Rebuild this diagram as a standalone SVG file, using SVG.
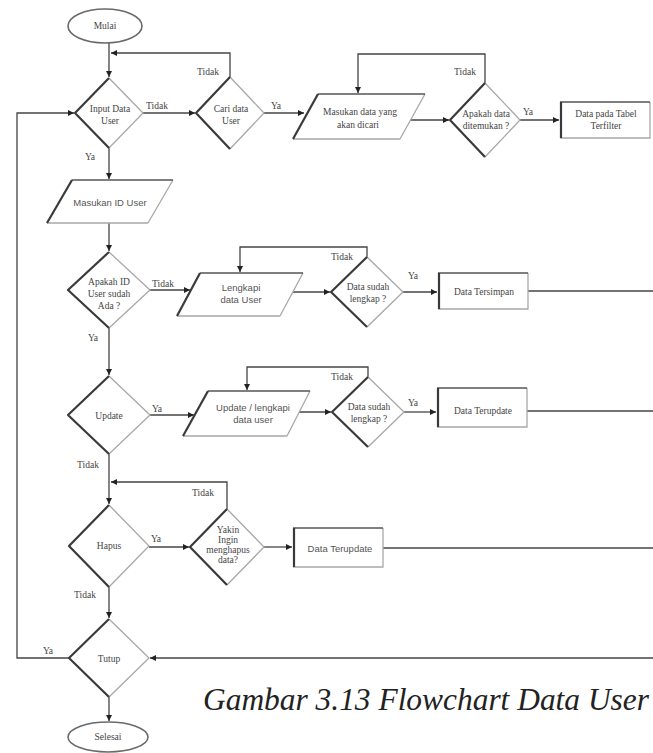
<svg xmlns="http://www.w3.org/2000/svg" width="653" height="753" viewBox="0 0 653 753">
  <style>
    .bg { fill: #ffffff; }
    .fill { fill: #ffffff; stroke: none; }
    .lt { fill: none; stroke: #a8a8a8; stroke-width: 1.3; }
    .dk { fill: none; stroke: #3a3a3a; stroke-width: 2.2; stroke-linejoin: round; }
    .md { fill: none; stroke: #555555; stroke-width: 1.5; }
    .ell { fill: #ffffff; stroke: #6a6a6a; stroke-width: 1.6; }
    .ln { fill: none; stroke: #444444; stroke-width: 1.3; }
    .t { font-family: "Liberation Serif", "Times New Roman", serif; font-size: 9.5px; fill: #444444; text-anchor: middle; }
    .s { font-family: "Liberation Sans", Arial, sans-serif; font-size: 9.5px; fill: #555555; text-anchor: middle; }
    .lb { font-family: "Liberation Serif", "Times New Roman", serif; font-size: 9.5px; fill: #444444; text-anchor: middle; }
    .cap { font-family: "Liberation Serif", "Times New Roman", serif; font-style: italic; font-size: 31px; fill: #222222; }
  </style>
  <defs>
    <marker id="arr" markerWidth="7" markerHeight="7" refX="6" refY="3" orient="auto" markerUnits="userSpaceOnUse">
      <path d="M0,0 L6,3 L0,6 z" fill="#222222"/>
    </marker>
  </defs>

  <rect class="bg" x="0" y="0" width="653" height="753"/>

  <!-- connectors -->
  <g id="connectors">
    <path class="ln" d="M109,43 L109,77" marker-end="url(#arr)"/>
    <path class="ln" d="M230,77 L230,53 L111,53" marker-end="url(#arr)"/>
    <path class="ln" d="M143,113 L195,113" marker-end="url(#arr)"/>
    <path class="ln" d="M264,113 L304,113" marker-end="url(#arr)"/>
    <path class="ln" d="M410,120 L449,120" marker-end="url(#arr)"/>
    <path class="ln" d="M485,83 L485,54 L358,54 L358,93" marker-end="url(#arr)"/>
    <path class="ln" d="M520,120 L559,120" marker-end="url(#arr)"/>
    <path class="ln" d="M109,148 L109,179" marker-end="url(#arr)"/>
    <path class="ln" d="M109,223 L109,251" marker-end="url(#arr)"/>
    <path class="ln" d="M150,290 L190,290" marker-end="url(#arr)"/>
    <path class="ln" d="M292,292 L330,292" marker-end="url(#arr)"/>
    <path class="ln" d="M367,257 L367,247 L240,247 L240,272" marker-end="url(#arr)"/>
    <path class="ln" d="M403,292 L437,292" marker-end="url(#arr)"/>
    <path class="ln" d="M528,291 L653,291"/>
    <path class="ln" d="M109,328 L109,375" marker-end="url(#arr)"/>
    <path class="ln" d="M150,415 L194,415" marker-end="url(#arr)"/>
    <path class="ln" d="M298,412 L331,412" marker-end="url(#arr)"/>
    <path class="ln" d="M368,377 L368,367 L247,367 L247,390" marker-end="url(#arr)"/>
    <path class="ln" d="M404,412 L436,412" marker-end="url(#arr)"/>
    <path class="ln" d="M527,411 L653,411"/>
    <path class="ln" d="M109,454 L109,504" marker-end="url(#arr)"/>
    <path class="ln" d="M227,509 L227,482 L111,482" marker-end="url(#arr)"/>
    <path class="ln" d="M149,547 L189,547" marker-end="url(#arr)"/>
    <path class="ln" d="M264,547 L292,547" marker-end="url(#arr)"/>
    <path class="ln" d="M383,548 L653,548"/>
    <path class="ln" d="M109,587 L109,618" marker-end="url(#arr)"/>
    <path class="ln" d="M653,658 L150,658" marker-end="url(#arr)"/>
    <path class="ln" d="M69,658 L17,658 L17,113 L74,113" marker-end="url(#arr)"/>
    <path class="ln" d="M109,697 L109,721" marker-end="url(#arr)"/>

    <!-- branch labels -->
    <text class="lb" x="208" y="75">Tidak</text>
    <text class="lb" x="157" y="109">Tidak</text>
    <text class="lb" x="276" y="109">Ya</text>
    <text class="lb" x="90" y="160">Ya</text>
    <text class="lb" x="465" y="75">Tidak</text>
    <text class="lb" x="528" y="115">Ya</text>
    <text class="lb" x="163" y="287">Tidak</text>
    <text class="lb" x="342" y="260">Tidak</text>
    <text class="lb" x="413" y="279">Ya</text>
    <text class="lb" x="93" y="341">Ya</text>
    <text class="lb" x="157" y="412">Ya</text>
    <text class="lb" x="342" y="380">Tidak</text>
    <text class="lb" x="413" y="406">Ya</text>
    <text class="lb" x="88" y="468">Tidak</text>
    <text class="lb" x="203" y="496">Tidak</text>
    <text class="lb" x="156" y="542">Ya</text>
    <text class="lb" x="85" y="598">Tidak</text>
    <text class="lb" x="48" y="654">Ya</text>
  </g>

  <!-- terminators -->
  <g id="mulai">
    <ellipse class="ell" cx="105" cy="26" rx="37" ry="17"/>
    <text class="t" x="105" y="29">Mulai</text>
  </g>
  <g id="selesai">
    <ellipse class="ell" cx="108" cy="737" rx="40" ry="15"/>
    <text class="t" x="108" y="740">Selesai</text>
  </g>

  <!-- decisions -->
  <g id="input-data-user">
    <path class="fill" d="M109,78 L75,113 L109,148 L143,113 z"/>
    <path class="lt" d="M109,78 L143,113 L109,148"/>
    <path class="dk" d="M109,78 L75,113 L109,148"/>
    <text class="t" x="110" y="112">Input Data</text>
    <text class="t" x="110" y="124">User</text>
  </g>
  <g id="cari-data-user">
    <path class="fill" d="M230,77 L196,113 L230,149 L264,113 z"/>
    <path class="lt" d="M230,77 L264,113 L230,149"/>
    <path class="dk" d="M230,77 L196,113 L230,149"/>
    <text class="t" x="231" y="112">Cari data</text>
    <text class="t" x="231" y="124">User</text>
  </g>
  <g id="apakah-data-ditemukan">
    <path class="fill" d="M485,83 L450,120 L485,157 L520,120 z"/>
    <path class="lt" d="M485,83 L520,120 L485,157"/>
    <path class="dk" d="M485,83 L450,120 L485,157"/>
    <text class="t" x="486" y="117">Apakah data</text>
    <text class="t" x="486" y="129">ditemukan ?</text>
  </g>
  <g id="apakah-id-ada">
    <path class="fill" d="M109,252 L68,290 L109,328 L150,290 z"/>
    <path class="lt" d="M109,252 L150,290 L109,328"/>
    <path class="dk" d="M109,252 L68,290 L109,328"/>
    <text class="t" x="109" y="285">Apakah ID</text>
    <text class="t" x="109" y="297">User sudah</text>
    <text class="t" x="109" y="309">Ada ?</text>
  </g>
  <g id="data-lengkap-1">
    <path class="fill" d="M367,257 L331,292 L367,327 L403,292 z"/>
    <path class="lt" d="M367,257 L403,292 L367,327"/>
    <path class="dk" d="M367,257 L331,292 L367,327"/>
    <text class="t" x="368" y="290">Data sudah</text>
    <text class="t" x="368" y="302">lengkap ?</text>
  </g>
  <g id="update">
    <path class="fill" d="M109,376 L68,415 L109,454 L150,415 z"/>
    <path class="lt" d="M109,376 L150,415 L109,454"/>
    <path class="dk" d="M109,376 L68,415 L109,454"/>
    <text class="t" x="109" y="419">Update</text>
  </g>
  <g id="data-lengkap-2">
    <path class="fill" d="M368,377 L332,412 L368,447 L404,412 z"/>
    <path class="lt" d="M368,377 L404,412 L368,447"/>
    <path class="dk" d="M368,377 L332,412 L368,447"/>
    <text class="t" x="369" y="410">Data sudah</text>
    <text class="t" x="369" y="422">lengkap ?</text>
  </g>
  <g id="hapus">
    <path class="fill" d="M109,505 L69,546 L109,587 L149,546 z"/>
    <path class="lt" d="M109,505 L149,546 L109,587"/>
    <path class="dk" d="M109,505 L69,546 L109,587"/>
    <text class="t" x="109" y="549">Hapus</text>
  </g>
  <g id="yakin-hapus">
    <path class="fill" d="M227,509 L190,547 L227,585 L264,547 z"/>
    <path class="lt" d="M227,509 L264,547 L227,585"/>
    <path class="dk" d="M227,509 L190,547 L227,585"/>
    <text class="t" x="228" y="533">Yakin</text>
    <text class="t" x="228" y="543">Ingin</text>
    <text class="t" x="228" y="553">menghapus</text>
    <text class="t" x="228" y="563">data?</text>
  </g>
  <g id="tutup">
    <path class="fill" d="M109,619 L69,658 L109,697 L149,658 z"/>
    <path class="lt" d="M109,619 L149,658 L109,697"/>
    <path class="dk" d="M109,619 L69,658 L109,697"/>
    <text class="t" x="109" y="662">Tutup</text>
  </g>

  <!-- inputs -->
  <g id="masukan-data-dicari">
    <path class="fill" d="M318,94 L425,94 L400,139 L293,139 z"/>
    <path class="lt" d="M293,139 L400,139 M425,94 L400,139"/>
    <path class="md" d="M318,94 L425,94"/>
    <path class="dk" d="M293,139 L318,94"/>
    <text class="t" x="360" y="115">Masukan data yang</text>
    <text class="t" x="358" y="128">akan dicari</text>
  </g>
  <g id="masukan-id-user">
    <path class="fill" d="M72,180 L173,180 L148,223 L47,223 z"/>
    <path class="lt" d="M47,223 L148,223 M173,180 L148,223"/>
    <path class="md" d="M72,180 L173,180"/>
    <path class="dk" d="M47,223 L72,180"/>
    <text class="s" x="110" y="206">Masukan ID User</text>
  </g>
  <g id="lengkapi-data-user">
    <path class="fill" d="M200,273 L303,273 L280,316 L177,316 z"/>
    <path class="lt" d="M177,316 L280,316 M303,273 L280,316"/>
    <path class="md" d="M200,273 L303,273"/>
    <path class="dk" d="M177,316 L200,273"/>
    <text class="s" x="241" y="291">Lengkapi</text>
    <text class="s" x="241" y="303">data User</text>
  </g>
  <g id="update-data-user">
    <path class="fill" d="M208,391 L310,391 L287,436 L183,436 z"/>
    <path class="lt" d="M183,436 L287,436 M310,391 L287,436"/>
    <path class="md" d="M208,391 L310,391"/>
    <path class="dk" d="M183,436 L208,391"/>
    <text class="s" x="253" y="411">Update / lengkapi</text>
    <text class="s" x="253" y="423">data user</text>
  </g>

  <!-- results -->
  <g id="data-terfilter">
    <rect class="fill" x="560" y="102" width="90" height="36"/>
    <path class="lt" d="M650,102 L650,138 L560,138"/>
    <path class="md" d="M560,102 L650,102"/>
    <path class="dk" d="M561,102 L561,138"/>
    <text class="t" x="606" y="117">Data pada Tabel</text>
    <text class="t" x="606" y="129">Terfilter</text>
  </g>
  <g id="data-tersimpan">
    <rect class="fill" x="438" y="273" width="90" height="36"/>
    <path class="lt" d="M528,273 L528,309 L438,309"/>
    <path class="md" d="M438,273 L528,273"/>
    <path class="dk" d="M439,273 L439,309"/>
    <text class="t" x="484" y="295">Data Tersimpan</text>
  </g>
  <g id="data-terupdate-1">
    <rect class="fill" x="437" y="388" width="90" height="39"/>
    <path class="lt" d="M527,388 L527,427 L437,427"/>
    <path class="md" d="M437,388 L527,388"/>
    <path class="dk" d="M438,388 L438,427"/>
    <text class="t" x="483" y="414">Data Terupdate</text>
  </g>
  <g id="data-terupdate-2">
    <rect class="fill" x="293" y="528" width="90" height="39"/>
    <path class="lt" d="M383,528 L383,567 L293,567"/>
    <path class="md" d="M293,528 L383,528"/>
    <path class="dk" d="M294,528 L294,567"/>
    <text class="s" x="340" y="552">Data Terupdate</text>
  </g>

  <text class="cap" x="203" y="710" textLength="446" lengthAdjust="spacingAndGlyphs">Gambar 3.13 Flowchart Data User</text>
</svg>
